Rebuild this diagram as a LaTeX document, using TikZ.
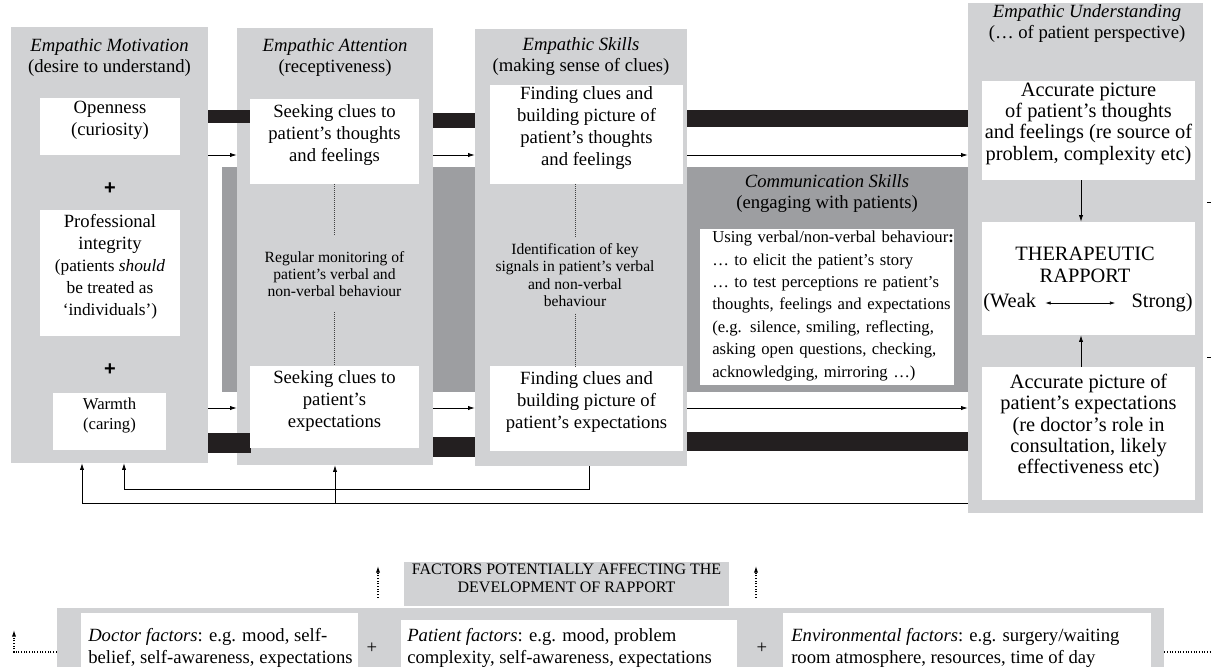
\documentclass[tikz,border=0pt]{standalone}
\usepackage{fontspec}
\setmainfont{Liberation Serif}
\newfontfamily\plusfont{Liberation Sans}
\usetikzlibrary{arrows.meta,positioning,fit}
\definecolor{lgrey}{RGB}{209,210,212}
\definecolor{dgrey}{RGB}{157,158,161}
\definecolor{barblack}{RGB}{35,31,32}
\newcommand{\fs}[2]{\fontsize{#1}{#2}\selectfont}

\begin{document}
\begin{tikzpicture}[x=0.75pt, y=-0.75pt,
  col/.style={fill=lgrey, inner sep=0pt},
  wbox/.style={fill=white, inner sep=0pt, align=center, font=\fs{14}{16.5}},
  ttl/.style={align=center, font=\fs{14}{15.75}},
  midtxt/.style={align=center, font=\fs{11.7}{13}},
  btxt/.style={align=left, inner sep=0pt, font=\fs{14}{16.5}},
  arr/.style={-{Latex[length=5pt,width=3.2pt]}, line width=0.6pt},
  dots/.style={dash pattern=on 0.5pt off 1pt, line width=0.6pt, black!75},
  dotarr/.style={dash pattern=on 0.7pt off 1.3pt, line width=0.8pt, -{Latex[length=5pt,width=3.2pt]}},
  plus/.style={font=\plusfont\fs{15}{15}\bfseries}]

  \useasboundingbox (0,0) rectangle (1211,667);
  \clip (0,0) rectangle (1211,667);
  \fill[white] (0,0) rectangle (1211,667);

  % dark band behind the middle, with communication skills
  \node[fill=dgrey, inner sep=0pt, fit={(222,167) (968,392)}] (comm) {};

  % the four columns
  \node[col, fit={(11,27) (208,463)}] (mot) {};
  \node[col, fit={(237,28) (433,465)}] (att) {};
  \node[col, fit={(475,29) (687,466)}] (skl) {};
  \node[col, fit={(968,3) (1203,513)}] (und) {};

  % black bars
  \foreach \xa/\ya/\xb/\yb in {208/110/251/123, 433/113/475/128, 687/110/968/127,
                               208/433/251/453, 433/437/475/457, 687/432/968/451}
    \fill[barblack] (\xa,\ya) rectangle (\xb,\yb);

  % Empathic Motivation
  \node[ttl] (mott) at (109.5,57.5) {\textit{Empathic Motivation}\\(desire to understand)};
  \node[wbox, fit={(40,98) (180,155)}] (open) {Openness\\(curiosity)};
  \node[plus] (p1) at (110,189) {+};
  \node[wbox, fit={(40,210) (180,336)}] (integ) {Professional\\integrity\\{\fs{13}{15.75}(patients \textit{should}}\\{\fs{13}{15.75}be treated as}\\{\fs{13}{15.75}`individuals')}};
  \node[plus] (p2) at (110,370) {+};
  \node[wbox, font=\fs{12.5}{15}, fit={(53,393) (166,450)}] (warm) {Warmth\\(caring)};

  % Empathic Attention
  \node[ttl] (attt) at (335,57.5) {\textit{Empathic Attention}\\(receptiveness)};
  \node[wbox, fit={(250,99) (419,184)}] (seek1) {Seeking clues to\\patient's thoughts\\and feelings};
  \node[wbox, fit={(250,366) (419,448)}] (seek2) {Seeking clues to\\patient's\\expectations};
  \node[midtxt, outer ysep=8pt] (mon) at (334.5,274) {Regular monitoring of\\patient's verbal and\\non-verbal behaviour};
  \draw[dots] (seek1) -- (mon);
  \draw[dots] (mon) -- (seek2);

  % Empathic Skills
  \node[ttl] (sklt) at (581,57) {\textit{Empathic Skills}\\(making sense of clues)};
  \node[wbox, fit={(490,85) (683,184)}] (find1) {Finding clues and\\building picture of\\patient's thoughts\\and feelings};
  \node[wbox, fit={(490,366) (683,451)}] (find2) {Finding clues and\\building picture of\\patient's expectations};
  \node[midtxt, outer ysep=2pt] (ident) at (575,275) {Identification of key\\signals in patient's verbal\\and non-verbal\\behaviour};
  \draw[dots] (ident) -- (find1.south -| ident);
  \draw[dots] (ident) -- (find2.north -| ident);

  % Communication Skills
  \node[ttl] (commt) at (827,193.5) {\textit{Communication Skills}\\(engaging with patients)};
  \node[fill=white, inner sep=0pt, fit={(700,229) (954,385)}] (cskill) {};
  \node[anchor=west, inner sep=0pt, text width=183pt, align=left, font=\fs{12.5}{16.8}] (cskt) at (712,306) {Using verbal/non-verbal behaviour\textbf{:}\\… to elicit the patient's story\\… to test perceptions re patient's\\thoughts, feelings and expectations\\(e.g. silence, smiling, reflecting,\\asking open questions, checking,\\acknowledging, mirroring …)};

  % Empathic Understanding
  \node[ttl] (undt) at (1087,24) {\textit{Empathic Understanding}\\(… of patient perspective)};
  \node[wbox, font=\fs{15.3}{16}, fit={(982,81) (1195,180)}] (acc1) {Accurate picture\\of patient's thoughts\\and feelings (re source of\\problem, complexity etc)};
  \node[wbox, fit={(982,222) (1195,335)}] (rap) {};
  \node[align=center, font=\fs{15.3}{16}] (rapt) at (1085,265) {THERAPEUTIC\\RAPPORT};
  \node[anchor=west, inner sep=0pt, font=\fs{15.3}{16}] (weak) at (983,303) {(Weak};
  \node[anchor=east, inner sep=0pt, font=\fs{15.3}{16}] (strong) at (1193,303) {Strong)};
  \draw[{Latex[length=4pt,width=2.5pt]}-{Latex[length=4pt,width=2.5pt]}, line width=0.5pt,
        shorten <=6.75pt, shorten >=12pt] (weak) -- (strong);
  \node[wbox, font=\fs{15.3}{16}, fit={(982,367) (1195,500)}] (acc2) {Accurate picture of\\patient's expectations\\(re doctor's role in\\consultation, likely\\effectiveness etc)};
  \coordinate (ax) at (1081,0);
  \draw[arr] (acc1.south -| ax) -- (rap.north -| ax);
  \draw[arr] (acc2.north -| ax) -- (rap.south -| ax);
  \coordinate (s1a) at (1207,202); \coordinate (s1) at (1211,202);
  \coordinate (s2a) at (1207,357); \coordinate (s2) at (1211,357);
  \draw[line width=0.6pt] (s1a) -- (s1);
  \draw[line width=0.6pt] (s2a) -- (s2);

  % arrows from column to column
  \coordinate (ta) at (0,155);
  \coordinate (ba) at (0,408);
  \foreach \a/\b in {mot/att, att/skl, skl/und} {
    \draw[arr] (\a.east |- ta) -- (\b.west |- ta);
    \draw[arr] (\a.east |- ba) -- (\b.west |- ba);
  }

  % feedback lines
  \coordinate (fa) at (82,503);
  \coordinate (fb) at (124,489);
  \coordinate (fc) at (335,503);
  \coordinate (fd) at (589,489);
  \draw[arr] (und.west |- fa) -- (fa) -- (mot.south -| fa);
  \draw[arr] (fc) -- (att.south -| fc);
  \draw[arr] (skl.south -| fd) -- (fd) -- (fb) -- (mot.south -| fb);

  % factors
  \node[fill=lgrey, inner sep=0pt, align=center, font=\fs{12}{13.5}, fit={(404,562) (729,606)}] (fac) {FACTORS POTENTIALLY AFFECTING THE\\DEVELOPMENT OF RAPPORT};
  \node[col, fit={(57,608) (1164,690)}] (fband) {};
  \node[fill=white, inner sep=0pt, fit={(81,613) (358,690)}] (doc) {};
  \node[fill=white, inner sep=0pt, fit={(401,620) (737,690)}] (pat) {};
  \node[fill=white, inner sep=0pt, fit={(783,613) (1151,690)}] (env) {};
  \node[btxt, anchor=west] (doct) at (88,648) {\textit{Doctor factors}: e.g. mood, self-\\belief, self-awareness, expectations};
  \node[btxt, anchor=west] (patt) at (407,648) {\textit{Patient factors}: e.g. mood, problem\\complexity, self-awareness, expectations};
  \node[btxt, anchor=west] (envt) at (791,648) {\textit{Environmental factors}: e.g. surgery/waiting\\room atmosphere, resources, time of day};
  \node[font=\fs{14}{14}] (p3) at (372,648) {+};
  \node[font=\fs{14}{14}] (p4) at (762,648) {+};

  \coordinate (da) at (378,566);
  \coordinate (db) at (756,566);
  \draw[dotarr, shorten <=7.5pt] (fband.north -| da) -- (da);
  \draw[dotarr, shorten <=7.5pt] (fband.north -| db) -- (db);
  \coordinate (dl) at (14,630);
  \coordinate (dy) at (0,652);
  \coordinate (dr) at (1211,652);
  \draw[dotarr] (fband.west |- dy) -- (dl |- dy) -- (dl);
  \draw[dotarr, -] (fband.east |- dr) -- (dr);
\end{tikzpicture}
\end{document}
